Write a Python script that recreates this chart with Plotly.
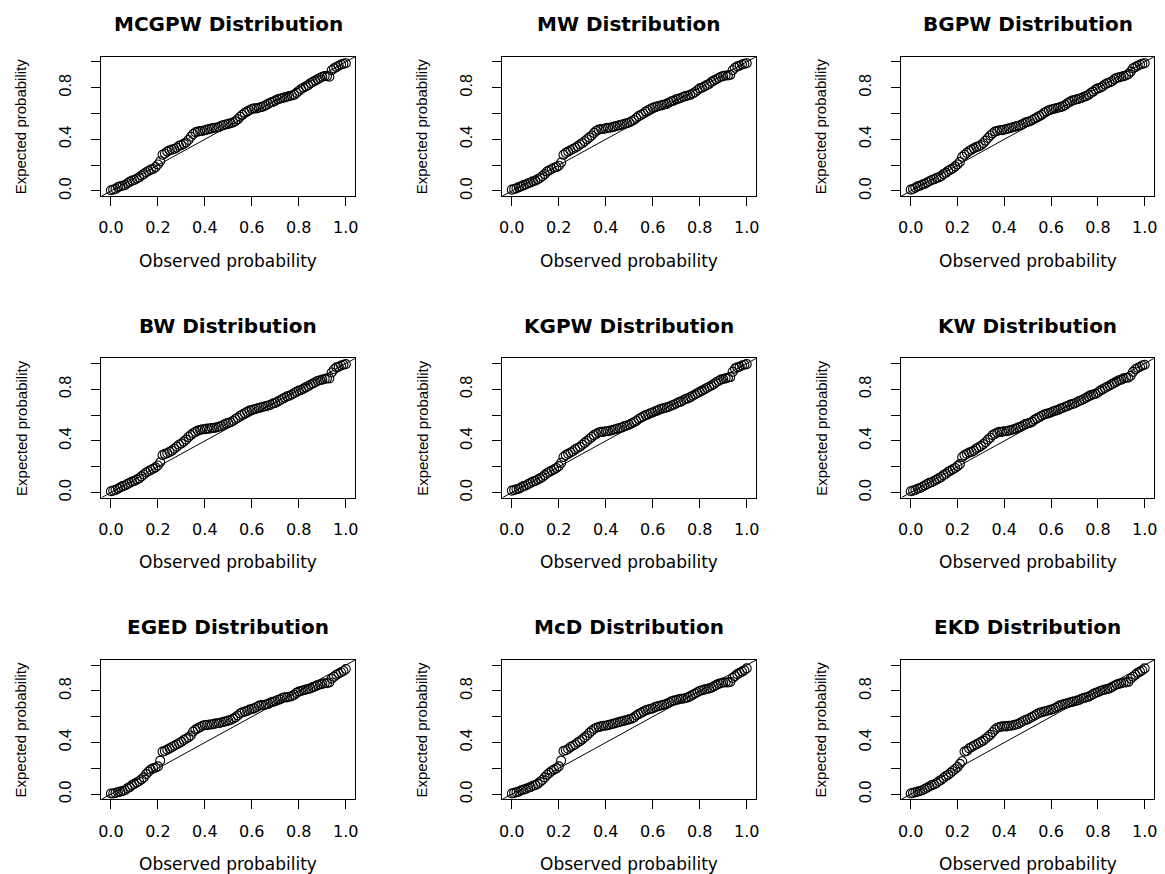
import plotly.graph_objects as go

# ---------------- data ----------------
OBS = [0.00, 0.01, 0.02, 0.03, 0.04, 0.05, 0.06, 0.07, 0.08, 0.09,
       0.10, 0.11, 0.12, 0.13, 0.14, 0.15, 0.16, 0.17, 0.18, 0.19,
       0.20, 0.21, 0.22, 0.23, 0.24, 0.25, 0.26, 0.27, 0.28, 0.29,
       0.30, 0.31, 0.32, 0.33, 0.34, 0.35, 0.36, 0.37, 0.38, 0.39,
       0.40, 0.41, 0.42, 0.43, 0.44, 0.45, 0.46, 0.47, 0.48, 0.49,
       0.50, 0.51, 0.52, 0.53, 0.54, 0.55, 0.56, 0.57, 0.58, 0.59,
       0.60, 0.61, 0.62, 0.63, 0.64, 0.65, 0.66, 0.67, 0.68, 0.69,
       0.70, 0.71, 0.72, 0.73, 0.74, 0.75, 0.76, 0.77, 0.78, 0.79,
       0.80, 0.81, 0.82, 0.83, 0.84, 0.85, 0.86, 0.87, 0.88, 0.89,
       0.90, 0.91, 0.92, 0.93, 0.94, 0.95, 0.96, 0.97, 0.98, 0.99, 1.00]

MCGPW = [0.005, 0.01, 0.015, 0.03, 0.035, 0.04, 0.045, 0.06, 0.07, 0.08,
         0.085, 0.095, 0.105, 0.12, 0.13, 0.145, 0.155, 0.165, 0.17, 0.185,
         0.205, 0.23, 0.28, 0.29, 0.305, 0.315, 0.32, 0.325, 0.335, 0.35,
         0.355, 0.365, 0.375, 0.395, 0.42, 0.44, 0.455, 0.46, 0.465, 0.465,
         0.47, 0.475, 0.48, 0.485, 0.49, 0.49, 0.495, 0.505, 0.51, 0.515,
         0.52, 0.525, 0.53, 0.54, 0.555, 0.575, 0.59, 0.605, 0.615, 0.625,
         0.635, 0.64, 0.64, 0.645, 0.65, 0.655, 0.665, 0.675, 0.685, 0.69,
         0.70, 0.71, 0.715, 0.72, 0.725, 0.73, 0.735, 0.74, 0.745, 0.76,
         0.775, 0.79, 0.80, 0.81, 0.82, 0.835, 0.845, 0.855, 0.865, 0.875,
         0.885, 0.89, 0.89, 0.885, 0.935, 0.95, 0.96, 0.97, 0.98, 0.985, 0.99]

MW = [0.01, 0.015, 0.02, 0.03, 0.035, 0.045, 0.05, 0.06, 0.065, 0.075,
      0.08, 0.09, 0.10, 0.115, 0.13, 0.15, 0.16, 0.17, 0.18, 0.185,
      0.195, 0.22, 0.28, 0.295, 0.305, 0.315, 0.325, 0.335, 0.345, 0.36,
      0.37, 0.385, 0.40, 0.415, 0.43, 0.45, 0.465, 0.475, 0.48, 0.48,
      0.485, 0.49, 0.49, 0.495, 0.50, 0.505, 0.51, 0.515, 0.52, 0.525,
      0.53, 0.54, 0.55, 0.565, 0.58, 0.59, 0.60, 0.615, 0.625, 0.635,
      0.645, 0.65, 0.655, 0.66, 0.665, 0.67, 0.675, 0.685, 0.695, 0.70,
      0.71, 0.715, 0.72, 0.73, 0.735, 0.74, 0.745, 0.755, 0.765, 0.78,
      0.795, 0.80, 0.81, 0.82, 0.83, 0.845, 0.855, 0.865, 0.875, 0.885,
      0.89, 0.895, 0.895, 0.90, 0.935, 0.955, 0.965, 0.97, 0.98, 0.985, 0.99]

BGPW = [0.01, 0.015, 0.025, 0.035, 0.04, 0.05, 0.055, 0.065, 0.075, 0.085,
        0.09, 0.10, 0.105, 0.115, 0.13, 0.14, 0.155, 0.165, 0.175, 0.19,
        0.205, 0.225, 0.265, 0.28, 0.295, 0.31, 0.32, 0.33, 0.34, 0.345,
        0.355, 0.37, 0.39, 0.41, 0.43, 0.445, 0.46, 0.465, 0.47, 0.47,
        0.475, 0.48, 0.485, 0.49, 0.495, 0.50, 0.505, 0.51, 0.52, 0.53,
        0.535, 0.54, 0.55, 0.56, 0.57, 0.58, 0.59, 0.605, 0.615, 0.625,
        0.63, 0.635, 0.64, 0.645, 0.65, 0.655, 0.665, 0.68, 0.69, 0.70,
        0.705, 0.71, 0.715, 0.72, 0.73, 0.735, 0.745, 0.76, 0.77, 0.785,
        0.795, 0.80, 0.81, 0.825, 0.835, 0.84, 0.85, 0.865, 0.875, 0.88,
        0.885, 0.89, 0.895, 0.905, 0.925, 0.95, 0.96, 0.97, 0.98, 0.985, 0.99]

BW = [0.01, 0.015, 0.02, 0.03, 0.04, 0.05, 0.055, 0.065, 0.075, 0.085,
      0.09, 0.10, 0.11, 0.125, 0.14, 0.155, 0.165, 0.175, 0.185, 0.195,
      0.21, 0.235, 0.29, 0.30, 0.305, 0.315, 0.325, 0.34, 0.355, 0.37,
      0.38, 0.395, 0.41, 0.43, 0.445, 0.46, 0.47, 0.48, 0.485, 0.49,
      0.49, 0.495, 0.495, 0.50, 0.50, 0.505, 0.51, 0.515, 0.525, 0.535,
      0.54, 0.545, 0.555, 0.57, 0.58, 0.595, 0.605, 0.615, 0.625, 0.635,
      0.64, 0.645, 0.65, 0.655, 0.66, 0.665, 0.67, 0.675, 0.68, 0.69,
      0.695, 0.705, 0.715, 0.725, 0.735, 0.745, 0.75, 0.76, 0.77, 0.78,
      0.79, 0.795, 0.805, 0.815, 0.825, 0.835, 0.845, 0.855, 0.865, 0.87,
      0.875, 0.88, 0.885, 0.885, 0.93, 0.955, 0.97, 0.975, 0.985, 0.99, 0.995]

KGPW = [0.015, 0.02, 0.025, 0.03, 0.04, 0.05, 0.055, 0.065, 0.075, 0.085,
        0.09, 0.10, 0.11, 0.12, 0.135, 0.15, 0.16, 0.17, 0.18, 0.19,
        0.205, 0.23, 0.275, 0.29, 0.30, 0.31, 0.32, 0.335, 0.345, 0.355,
        0.37, 0.385, 0.40, 0.415, 0.43, 0.445, 0.455, 0.465, 0.47, 0.47,
        0.475, 0.475, 0.48, 0.485, 0.49, 0.495, 0.50, 0.505, 0.515, 0.52,
        0.525, 0.535, 0.545, 0.555, 0.57, 0.58, 0.59, 0.60, 0.605, 0.615,
        0.62, 0.63, 0.635, 0.645, 0.65, 0.655, 0.66, 0.665, 0.675, 0.68,
        0.69, 0.70, 0.705, 0.715, 0.725, 0.73, 0.74, 0.75, 0.76, 0.77,
        0.78, 0.79, 0.80, 0.81, 0.82, 0.83, 0.84, 0.855, 0.865, 0.875,
        0.88, 0.885, 0.89, 0.895, 0.935, 0.96, 0.97, 0.975, 0.985, 0.99, 0.995]

KW = [0.01, 0.015, 0.02, 0.03, 0.035, 0.045, 0.055, 0.065, 0.075, 0.08,
      0.09, 0.10, 0.11, 0.12, 0.135, 0.145, 0.16, 0.17, 0.18, 0.19,
      0.205, 0.22, 0.275, 0.29, 0.30, 0.31, 0.315, 0.325, 0.34, 0.35,
      0.36, 0.375, 0.39, 0.41, 0.425, 0.445, 0.455, 0.465, 0.47, 0.47,
      0.475, 0.475, 0.48, 0.485, 0.49, 0.495, 0.505, 0.51, 0.52, 0.53,
      0.535, 0.54, 0.55, 0.565, 0.575, 0.585, 0.595, 0.605, 0.61, 0.615,
      0.62, 0.63, 0.635, 0.64, 0.65, 0.655, 0.665, 0.67, 0.68, 0.685,
      0.69, 0.70, 0.71, 0.715, 0.725, 0.735, 0.745, 0.755, 0.76, 0.765,
      0.775, 0.79, 0.80, 0.81, 0.82, 0.83, 0.84, 0.85, 0.86, 0.87,
      0.875, 0.885, 0.89, 0.89, 0.905, 0.935, 0.955, 0.965, 0.975, 0.985, 0.99]

EGED = [0.005, 0.005, 0.01, 0.015, 0.02, 0.025, 0.03, 0.045, 0.055, 0.07,
        0.08, 0.09, 0.10, 0.115, 0.13, 0.155, 0.175, 0.19, 0.20, 0.205,
        0.215, 0.26, 0.33, 0.335, 0.345, 0.355, 0.365, 0.375, 0.385, 0.395,
        0.405, 0.42, 0.43, 0.44, 0.455, 0.485, 0.50, 0.51, 0.52, 0.53,
        0.535, 0.535, 0.54, 0.54, 0.545, 0.55, 0.55, 0.555, 0.56, 0.565,
        0.57, 0.575, 0.585, 0.595, 0.61, 0.625, 0.635, 0.64, 0.645, 0.655,
        0.66, 0.665, 0.675, 0.685, 0.69, 0.69, 0.695, 0.70, 0.71, 0.715,
        0.72, 0.73, 0.735, 0.745, 0.75, 0.75, 0.755, 0.76, 0.77, 0.785,
        0.795, 0.80, 0.805, 0.81, 0.815, 0.82, 0.83, 0.835, 0.845, 0.85,
        0.855, 0.86, 0.86, 0.865, 0.895, 0.91, 0.925, 0.935, 0.945, 0.955, 0.97]

MCD = [0.005, 0.01, 0.015, 0.02, 0.03, 0.035, 0.04, 0.05, 0.055, 0.065,
       0.07, 0.08, 0.095, 0.11, 0.13, 0.15, 0.165, 0.18, 0.19, 0.20,
       0.215, 0.26, 0.335, 0.34, 0.35, 0.365, 0.375, 0.385, 0.40, 0.41,
       0.425, 0.44, 0.455, 0.475, 0.49, 0.505, 0.515, 0.52, 0.525, 0.53,
       0.53, 0.535, 0.54, 0.545, 0.55, 0.555, 0.56, 0.565, 0.57, 0.575,
       0.58, 0.585, 0.595, 0.61, 0.62, 0.63, 0.64, 0.65, 0.655, 0.66,
       0.665, 0.675, 0.68, 0.685, 0.69, 0.695, 0.70, 0.71, 0.72, 0.725,
       0.73, 0.735, 0.74, 0.74, 0.745, 0.75, 0.76, 0.77, 0.78, 0.79,
       0.80, 0.805, 0.81, 0.815, 0.82, 0.825, 0.835, 0.845, 0.855, 0.86,
       0.865, 0.865, 0.865, 0.87, 0.90, 0.915, 0.93, 0.94, 0.95, 0.96, 0.975]

EKD = [0.005, 0.01, 0.015, 0.02, 0.025, 0.03, 0.04, 0.05, 0.06, 0.07,
       0.075, 0.085, 0.10, 0.11, 0.125, 0.14, 0.15, 0.165, 0.18, 0.195,
       0.21, 0.235, 0.255, 0.33, 0.335, 0.355, 0.365, 0.375, 0.385, 0.395,
       0.405, 0.415, 0.43, 0.445, 0.46, 0.48, 0.50, 0.515, 0.52, 0.525,
       0.525, 0.525, 0.53, 0.53, 0.535, 0.54, 0.545, 0.555, 0.565, 0.575,
       0.58, 0.59, 0.60, 0.61, 0.62, 0.63, 0.635, 0.64, 0.645, 0.65,
       0.655, 0.66, 0.67, 0.68, 0.69, 0.695, 0.70, 0.705, 0.71, 0.715,
       0.72, 0.725, 0.73, 0.74, 0.745, 0.75, 0.755, 0.765, 0.775, 0.785,
       0.79, 0.80, 0.805, 0.81, 0.815, 0.82, 0.83, 0.84, 0.85, 0.855,
       0.86, 0.865, 0.865, 0.87, 0.895, 0.91, 0.925, 0.94, 0.95, 0.96, 0.975]

TITLES = ["MCGPW Distribution", "MW Distribution", "BGPW Distribution",
          "BW Distribution", "KGPW Distribution", "KW Distribution",
          "EGED Distribution", "McD Distribution", "EKD Distribution"]
SERIES = [MCGPW, MW, BGPW, BW, KGPW, KW, EGED, MCD, EKD]

TICK_VALS = [0.0, 0.2, 0.4, 0.6, 0.8, 1.0]
X_TICK_TEXT = ["0.0", "0.2", "0.4", "0.6", "0.8", "1.0"]
Y_TICK_TEXT = ["0.0", "", "0.4", "", "0.8", ""]
AXIS_RANGE = [-0.04, 1.04]
X_LABEL = "Observed probability"
Y_LABEL = "Expected probability"

# ---------------- layout geometry (pixels) ----------------
W, H = 1165, 874
COL_PX = [(99, 354), (502, 757), (903, 1157)]
ROW_PX = [(57, 197), (360, 500), (663, 803)]

fig = go.Figure()
layout = dict(
    width=W, height=H,
    margin=dict(l=0, r=0, t=0, b=0),
    paper_bgcolor="white", plot_bgcolor="white",
    showlegend=False,
    annotations=[],
)

for i, (title, ys) in enumerate(zip(TITLES, SERIES)):
    r, c = divmod(i, 3)
    n = "" if i == 0 else str(i + 1)
    xa, ya = "x" + n, "y" + n
    x0, x1 = COL_PX[c]
    y0, y1 = ROW_PX[r]

    # reference line y = x across the whole panel
    fig.add_trace(go.Scatter(x=AXIS_RANGE, y=AXIS_RANGE, mode="lines",
                             line=dict(color="black", width=1),
                             xaxis=xa, yaxis=ya, hoverinfo="skip"))
    fig.add_trace(go.Scatter(x=OBS, y=ys, mode="markers",
                             marker=dict(symbol="circle-open", size=9,
                                         color="black",
                                         line=dict(width=1.1, color="black")),
                             xaxis=xa, yaxis=ya))

    common = dict(range=AXIS_RANGE, showgrid=False, zeroline=False,
                  showline=True, linecolor="black", linewidth=1.3,
                  mirror=True, ticks="outside", ticklen=9, tickwidth=1,
                  tickcolor="black", tickvals=TICK_VALS, fixedrange=True)
    layout["xaxis" + n] = dict(
        common, domain=[x0 / W, x1 / W], anchor=ya, ticktext=X_TICK_TEXT,
        tickfont=dict(family="DejaVu Sans", size=16, color="black"),
        ticklabelstandoff=8)
    layout["yaxis" + n] = dict(
        common, domain=[1 - y1 / H, 1 - y0 / H], anchor=xa,
        ticktext=Y_TICK_TEXT, tickangle=-90,
        tickfont=dict(family="Liberation Sans", size=16, color="black"),
        ticklabelstandoff=14)

    cx = (x0 + x1) / 2
    layout["annotations"].append(dict(
        text="<b>" + title + "</b>", x=cx / W, y=1 - (y0 - 33) / H,
        xref="paper", yref="paper", xanchor="center", yanchor="middle",
        showarrow=False,
        font=dict(family="DejaVu Sans", size=20, color="black")))
    layout["annotations"].append(dict(
        text=X_LABEL, x=cx / W, y=1 - (y1 + 65) / H,
        xref="paper", yref="paper", xanchor="center", yanchor="middle",
        showarrow=False,
        font=dict(family="DejaVu Sans", size=17, color="black")))
    layout["annotations"].append(dict(
        text=Y_LABEL, x=(x0 - 81) / W, y=1 - ((y0 + y1) / 2) / H,
        xref="paper", yref="paper", xanchor="center", yanchor="middle",
        textangle=-90, showarrow=False,
        font=dict(family="Liberation Sans", size=15, color="black")))

fig.update_layout(**layout)
fig.write_html("out.html")
